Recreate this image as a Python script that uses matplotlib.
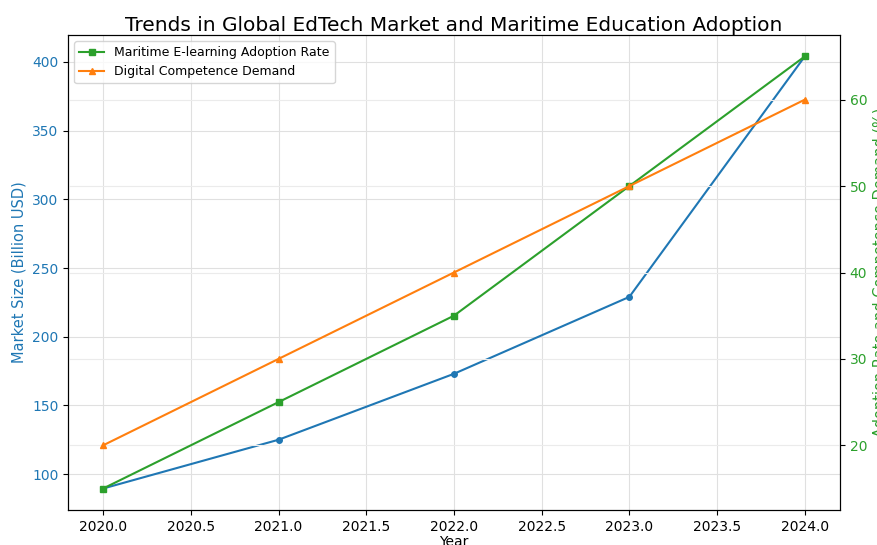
import matplotlib
matplotlib.use("Agg")
import matplotlib.pyplot as plt

years = [2020, 2021, 2022, 2023, 2024]
market_size = [89.5, 125, 173, 229, 404]
adoption_rate = [15, 25, 35, 50, 65]
competence_demand = [20, 30, 40, 50, 60]

fig = plt.figure(figsize=(8.78, 5.45), dpi=100)
ax1 = fig.add_axes([0.0775, 0.064, 0.879, 0.872])

ax1.plot(years, market_size, color='tab:blue', marker='o', markersize=4, linewidth=1.5,
         label='Global EdTech Market Size')
ax1.set_xlabel('Year', labelpad=1)
ax1.set_ylabel('Market Size (Billion USD)', color='tab:blue', fontsize=10.5)
ax1.tick_params(axis='y', labelcolor='tab:blue')
ax1.grid(True, color='#e0e0e0', linewidth=0.8)

ax2 = ax1.twinx()
ax2.plot(years, adoption_rate, color='tab:green', marker='s', markersize=4, linewidth=1.5,
         label='Maritime E-learning Adoption Rate')
ax2.plot(years, competence_demand, color='tab:orange', marker='^', markersize=4, linewidth=1.5,
         label='Digital Competence Demand')
ax2.set_ylabel('Adoption Rate and Competence Demand (%)', color='tab:green', fontsize=10.5)
ax2.tick_params(axis='y', labelcolor='tab:green')
ax2.grid(True, color='#ebebeb', linewidth=0.8, zorder=0)
ax2.legend(loc='upper left', fontsize=9)

ax1.set_title('Trends in Global EdTech Market and Maritime Education Adoption', fontsize=14.5, pad=3)

fig.savefig('out.png', dpi=100)
